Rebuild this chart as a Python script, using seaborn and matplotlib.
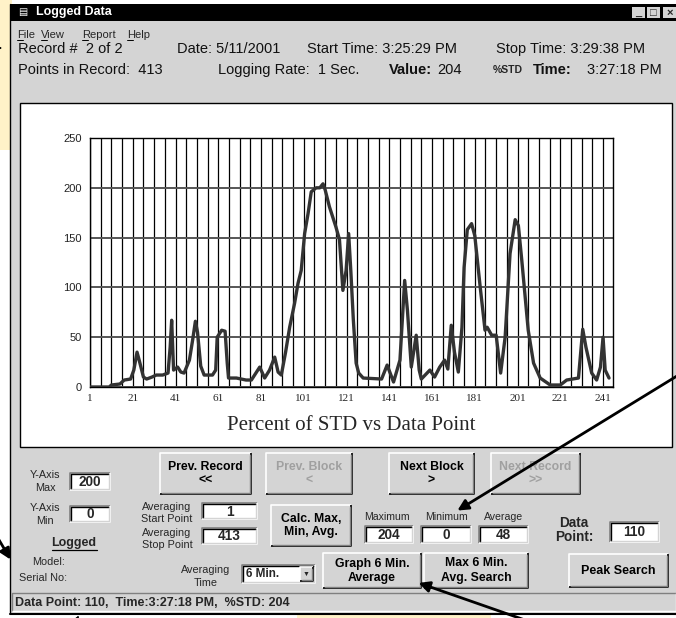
import numpy as np
import pandas as pd
import matplotlib
matplotlib.use('Agg')
import matplotlib.pyplot as plt
import seaborn as sns
from matplotlib.patches import Rectangle

point = [1, 10, 11, 15, 17, 20, 21.5, 23, 24, 26, 27.5, 30, 32, 35, 37.5, 38.5, 39.2, 40.1,
         42, 43.5, 45, 47.5, 49, 50.3, 51.3, 52.8, 54.4, 58.3, 59.8, 60.5, 62.6, 64.2, 65.2,
         65.8, 69.5, 74, 76.5, 78, 80.4, 82.7, 85, 87.4, 89, 90.5, 92.5, 94.4, 96.7, 98.3,
         99.8, 101.4, 103, 104.5, 106.8, 108.5, 110, 111, 113, 116, 117.7, 119.3, 120.8, 122,
         123, 124.2, 125.5, 126.7, 128.8, 137.4, 140, 143, 146, 148.2, 149.5, 151.3, 153.6,
         155, 156, 160, 162.2, 164.6, 166.9, 168.4, 170, 171.5, 173.3, 175, 176, 177.5, 179.5,
         181, 183.5, 185.8, 186.8, 188.9, 191, 193.1, 195.2, 197.5, 199.9, 201.4, 203, 206,
         208.5, 211.6, 216.3, 221, 224, 229.5, 231.5, 233, 235.7, 238, 239.8, 241, 242, 243.8]
pct_std = [0, 0, 2, 3, 7, 8, 17, 35, 27, 10, 8, 10, 12, 12, 14, 40, 67, 17,
           20, 15, 14, 27, 47, 66, 55, 21, 12, 12, 17, 50, 57, 56, 24,
           9, 9, 7, 7, 12, 20, 9, 17, 30, 15, 12, 35, 60, 84, 104,
           117, 154, 174, 196, 200, 200, 204, 198, 181, 161, 148, 97, 117, 154,
           117, 67, 24, 14, 9, 8, 22, 5, 27, 107, 77, 20, 52,
           17, 8, 17, 10, 20, 27, 18, 62, 35, 15, 60, 120, 158, 164,
           152, 101, 57, 60, 52, 52, 14, 50, 134, 168, 162, 127, 57,
           24, 9, 2, 2, 7, 9, 58, 40, 14, 7, 20, 50, 17, 9]

x_labels = [1, 21, 41, 61, 81, 101, 121, 141, 161, 181, 201, 221, 241]
y_labels = [0, 50, 100, 150, 200, 250]

df = pd.DataFrame({'Data Point': point, '%STD': pct_std})

sns.set_style('white')
plt.rcParams['font.family'] = ['Liberation Sans', 'DejaVu Sans']

GRAY = '#d4d4d4'
DARK = '#808080'

fig = plt.figure(figsize=(6.76, 6.18), dpi=100)
fig.patch.set_facecolor('white')

ui = fig.add_axes([0, 0, 1, 1])
ui.set_xlim(0, 676)
ui.set_ylim(618, 0)
ui.axis('off')


def rect(x0, y0, x1, y1, fc, ec='none', lw=0, z=1):
    ui.add_patch(Rectangle((x0, y0), x1 - x0, y1 - y0, facecolor=fc, edgecolor=ec, lw=lw, zorder=z))


def edges(x0, y0, x1, y1, tl, br, lw=1, z=3):
    ui.plot([x0, x0, x1], [y1, y0, y0], color=tl, lw=lw, zorder=z, solid_capstyle='butt')
    ui.plot([x0, x1, x1], [y1, y1, y0], color=br, lw=lw, zorder=z, solid_capstyle='butt')


def button(x0, y0, x1, y1, lines, enabled=True, fs=8.8):
    rect(x0, y0, x1, y1, GRAY, z=2)
    edges(x0, y0, x1, y1, 'white', 'black', lw=1.2)
    edges(x0 + 1.5, y0 + 1.5, x1 - 1.5, y1 - 1.5, GRAY, DARK, lw=1)
    col = 'black' if enabled else '#a0a0a0'
    n = len(lines)
    cy = (y0 + y1) / 2
    for k, t in enumerate(lines):
        ui.text((x0 + x1) / 2, cy + (k - (n - 1) / 2) * 14, t, ha='center', va='center',
                fontsize=fs, weight='bold', color=col, zorder=4)


def field(x0, y0, x1, y1, txt, fs=9.8):
    rect(x0, y0, x1, y1, 'white', z=2)
    edges(x0, y0, x1, y1, DARK, 'white', lw=1.2)
    edges(x0 + 1, y0 + 1, x1 - 1, y1 - 1, 'black', GRAY, lw=1)
    ui.text((x0 + x1) / 2, (y0 + y1) / 2 + 0.5, txt, ha='center', va='center',
            fontsize=fs, weight='bold', zorder=4)


def label(x, y, lines, ha='center', fs=7.8, step=13):
    n = len(lines)
    for k, t in enumerate(lines):
        ui.text(x, y + (k - (n - 1) / 2) * step, t, ha=ha, va='center', fontsize=fs, zorder=4)


# surroundings
rect(0, 0, 12, 150, '#fff2c8', z=0)
rect(297, 613, 491, 618, '#fff2c8', z=0)

# window
rect(10, 4, 676, 613, GRAY, z=1)
ui.plot([10, 10], [4, 613], color='black', lw=1, zorder=3)
ui.plot([10, 676], [613.5, 613.5], color='black', lw=1.5, zorder=3)
rect(10, 4, 676, 21, 'black', z=2)
ui.text(18, 12.5, '\u25a4', color='white', fontsize=7, va='center', zorder=4)
ui.text(36, 12.5, 'Logged Data', color='white', fontsize=9, weight='bold', va='center', zorder=4)
for bx, sym in [(632, '_'), (647, '\u25a1'), (663, '\u00d7')]:
    rect(bx, 7, bx + 13, 18, GRAY, z=3)
    ui.text(bx + 6.5, 12.5, sym, ha='center', va='center', fontsize=8, weight='bold', zorder=4)

# menu
for mx, m in [(17, 'File'), (41, 'View'), (82, 'Report'), (127, 'Help')]:
    ui.text(mx, 34.5, m, fontsize=8, va='center', zorder=4)
    ui.plot([mx, mx + 6], [40, 40], color='black', lw=0.7, zorder=4)

# info rows
info = dict(fontsize=10.5, va='center', zorder=4, color='#111111')
ui.text(18, 49, 'Record #  2 of 2', **info)
ui.text(177, 49, 'Date: 5/11/2001', **info)
ui.text(307, 49, 'Start Time: 3:25:29 PM', **info)
ui.text(496, 49, 'Stop Time: 3:29:38 PM', **info)
ui.text(18, 70, 'Points in Record:  413', **info)
ui.text(218, 70, 'Logging Rate:  1 Sec.', **info)
ui.text(389, 70, 'Value:', weight='bold', **info)
ui.text(437, 70, '204', **info)
ui.text(493, 70, '%STD', fontsize=7.5, weight='bold', va='center', zorder=4)
ui.text(533, 70, 'Time:', weight='bold', **info)
ui.text(587, 70, '3:27:18 PM', **info)

# chart panel
rect(20, 103, 672, 447, 'white', ec='black', lw=1, z=2)
ui.text(351, 425, 'Percent of STD vs Data Point', ha='center', va='center',
        fontsize=15, family='Liberation Serif', zorder=4)

ax = fig.add_axes([90 / 676, 1 - 387 / 618, (613.3 - 90) / 676, (387 - 138) / 618])
ax.set_zorder(5)
sns.lineplot(data=df, x='Data Point', y='%STD', ax=ax, color='#333333', lw=2.4, zorder=3)
ax.set_xlim(1, 245.8)
ax.set_ylim(0, 250)
ax.set_xticks(x_labels)
ax.set_xticks(np.arange(1, 246, 5), minor=True)
ax.set_yticks(y_labels)
ax.set_xticklabels([str(v) for v in x_labels], family='Liberation Serif', fontsize=8)
ax.set_yticklabels([str(v) for v in y_labels], fontsize=8, color='#222222')
ax.grid(which='both', axis='x', color='black', lw=0.9)
ax.grid(which='major', axis='y', color='#555555', lw=1.4)
ax.tick_params(axis='x', which='both', direction='out', length=4, width=0.8, color='black', pad=1)
ax.tick_params(axis='y', direction='out', length=4, width=0.8, color='black', pad=2)
ax.set_xlabel('')
ax.set_ylabel('')
for s in ax.spines.values():
    s.set_color('black')
    s.set_linewidth(1)

# controls
label(45, 481.5, ['Y-Axis', 'Max'])
field(70, 473, 110, 490, '200')
label(45, 514.5, ['Y-Axis', 'Min'])
field(70, 506, 110, 522, '0')
ui.text(74, 543, 'Logged', fontsize=9, weight='bold', ha='center', va='center', zorder=4)
ui.plot([52, 97], [549.5, 549.5], color='black', lw=0.9, zorder=4)
ui.text(65, 562, 'Model:', fontsize=7.8, ha='right', va='center', zorder=4)
ui.text(67, 578, 'Serial No:', fontsize=7.8, ha='right', va='center', zorder=4)

button(160, 453, 251, 494, ['Prev. Record', '<<'])
button(266, 453, 352, 494, ['Prev. Block', '<'], enabled=False)
button(389, 453, 474, 494, ['Next Block', '>'])
button(491, 453, 580, 494, ['Next Record', '>>'], enabled=False)

label(167, 513, ['Averaging', 'Start Point'], step=12)
field(202, 503, 257, 519, '1')
label(167, 539, ['Averaging', 'Stop Point'], step=13)
field(202, 528, 257, 544, '413')
button(271, 505, 351, 546, ['Calc. Max,', 'Min, Avg.'])

ui.text(387, 517, 'Maximum', fontsize=7.6, ha='center', va='center', zorder=4)
ui.text(446, 517, 'Minimum', fontsize=7.6, ha='center', va='center', zorder=4)
ui.text(504, 517, 'Average', fontsize=7.6, ha='center', va='center', zorder=4)
field(365, 526, 413, 543, '204')
field(421, 526, 471, 543, '0')
field(479, 526, 528, 543, '48')

ui.text(574, 530, 'Data\nPoint:', fontsize=9.8, weight='bold', ha='center', va='center',
        linespacing=1.05, zorder=4)
field(610, 522, 659, 542, '110')

label(206, 576.5, ['Averaging', 'Time'])
field(242, 565, 315, 583, '')
ui.text(246, 574, '6 Min.', fontsize=8.5, weight='bold', va='center', zorder=4)
button(300, 567, 313, 581, [''])
ui.text(306.5, 574, '\u25bc', fontsize=5, ha='center', va='center', zorder=5)

button(323, 553, 421, 588, ['Graph 6 Min.', 'Average'])
button(424, 553, 528, 588, ['Max 6 Min.', 'Avg. Search'])
button(569, 554, 668, 587, ['Peak Search'], fs=9)

# status bar
rect(12, 593, 676, 611, GRAY, z=2)
edges(12, 593, 676, 611, DARK, 'white', lw=1)
ui.text(15, 602.5, 'Data Point: 110,  Time:3:27:18 PM,  %STD: 204', fontsize=9,
        weight='bold', va='center', zorder=4)

# callout arrows over the screenshot
top = fig.add_axes([0, 0, 1, 1])
top.set_xlim(0, 676)
top.set_ylim(618, 0)
top.axis('off')
top.set_zorder(10)
for (x0, y0), (x1, y1) in [((690, 368), (455, 512)), ((545, 627), (416, 582)), ((-8, 528), (12, 562))]:
    top.annotate('', xy=(x1, y1), xytext=(x0, y0),
                 arrowprops=dict(arrowstyle='-|>', color='black', lw=2, mutation_scale=16))
top.annotate('', xy=(5, 48), xytext=(-4, 48),
             arrowprops=dict(arrowstyle='-|>', color='black', lw=1, mutation_scale=8))
top.annotate('', xy=(80, 613), xytext=(74, 625),
             arrowprops=dict(arrowstyle='-|>', color='black', lw=1, mutation_scale=8))

fig.savefig('out.png', dpi=100)
